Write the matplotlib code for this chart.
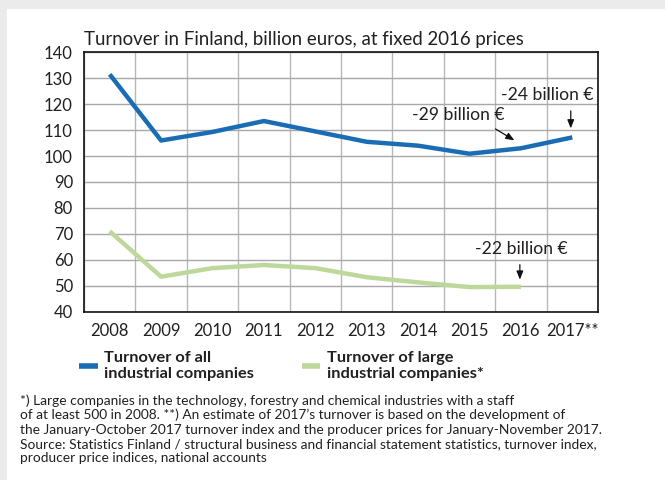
import matplotlib
matplotlib.use("Agg")
import matplotlib.pyplot as plt
from matplotlib.patches import Rectangle
import numpy as np

years = ["2008", "2009", "2010", "2011", "2012", "2013", "2014", "2015", "2016", "2017**"]
all_companies = [131.5, 106.0, 109.3, 113.5, 109.5, 105.5, 104.0, 100.9, 103.0, 107.2]
large_companies = [71.0, 53.5, 56.8, 58.0, 56.8, 53.3, 51.3, 49.5, 49.6]

title = "Turnover in Finland, billion euros, at fixed 2016 prices"
label_all = "Turnover of all\nindustrial companies"
label_large = "Turnover of large\nindustrial companies*"
footnote = ("*) Large companies in the technology, forestry and chemical industries with a staff\n"
            "of at least 500 in 2008. **) An estimate of 2017\u2019s turnover is based on the development of\n"
            "the January-October 2017 turnover index and the producer prices for January-November 2017.\n"
            "Source: Statistics Finland / structural business and financial statement statistics, turnover index,\n"
            "producer price indices, national accounts")

BLUE = "#1a6db4"
GREEN = "#bcd99b"
TXT = "#231f20"

plt.rcParams["font.family"] = ["Lato", "DejaVu Sans"]

fig = plt.figure(figsize=(6.65, 4.8), dpi=100)
fig.patch.set_facecolor("white")
fig.patches.append(Rectangle((0, 1 - 9 / 480), 1, 9 / 480, transform=fig.transFigure,
                             facecolor="#ebebeb", edgecolor="none", zorder=0))
fig.patches.append(Rectangle((0, 0), 7 / 665, 1, transform=fig.transFigure,
                             facecolor="#ebebeb", edgecolor="none", zorder=0))

ax = fig.add_axes([84 / 665, 1 - 311.7 / 480, 514 / 665, (311.7 - 52.3) / 480])
x_all = np.arange(len(all_companies)) + 0.5
x_large = np.arange(len(large_companies)) + 0.5
l1, = ax.plot(x_all, all_companies, color=BLUE, lw=3.2, solid_capstyle="butt", zorder=3)
l2, = ax.plot(x_large, large_companies, color=GREEN, lw=3.2, solid_capstyle="butt", zorder=3)

ax.set_xlim(0, len(years))
ax.set_ylim(40, 140)
ax.set_yticks(np.arange(40, 141, 10))
ax.set_xticks(np.arange(len(years)) + 0.5)
ax.set_xticklabels(years)
ax.set_xticks(np.arange(0, len(years) + 1), minor=True)
ax.grid(False)
ax.grid(True, which="minor", axis="x", color="#b8b8b8", lw=1.0)
ax.grid(True, which="major", axis="y", color="#a8a8a8", lw=1.0)
ax.set_axisbelow(True)
ax.tick_params(axis="both", which="both", length=0, labelsize=12, colors=TXT)
ax.tick_params(axis="y", pad=8)
ax.tick_params(axis="x", pad=8)
for s in ax.spines.values():
    s.set_color("#111111")
    s.set_linewidth(1.2)

ax.set_title(title, loc="left", fontsize=13.4, color=TXT, pad=5)

akw = dict(arrowstyle="-|>,head_length=0.5,head_width=0.2", color="#111111", lw=0.9)
ax.text(9.02, 123.4, "-24 billion \u20ac", ha="center", va="center", fontsize=12.6, color=TXT)
ax.annotate("", xy=(9.47, 109.6), xytext=(9.47, 118.5), arrowprops=akw)
ax.text(7.28, 115.9, "-29 billion \u20ac", ha="center", va="center", fontsize=12.6, color=TXT)
ax.annotate("", xy=(8.42, 105.5), xytext=(7.96, 111.0), arrowprops=akw)
ax.text(8.5, 64.0, "-22 billion \u20ac", ha="center", va="center", fontsize=12.6, color=TXT)
ax.annotate("", xy=(8.48, 51.3), xytext=(8.48, 59.2), arrowprops=akw)

leg = fig.legend([l1, l2], [label_all, label_large], loc="upper left",
                 bbox_to_anchor=(64 / 665, 1 - 336 / 480), ncol=2, frameon=False,
                 handlelength=1.15, handletextpad=0.4, columnspacing=2.9,
                 prop=dict(weight="bold", size=11.8))
for h in leg.legend_handles:
    h.set_linewidth(4)
for t in leg.get_texts():
    t.set_color(TXT)
    t.set_linespacing(1.2)

fig.text(20 / 665, 1 - 394 / 480, footnote, ha="left", va="top", fontsize=9.9,
         color=TXT, linespacing=1.22)

fig.savefig("out.png", dpi=100)
